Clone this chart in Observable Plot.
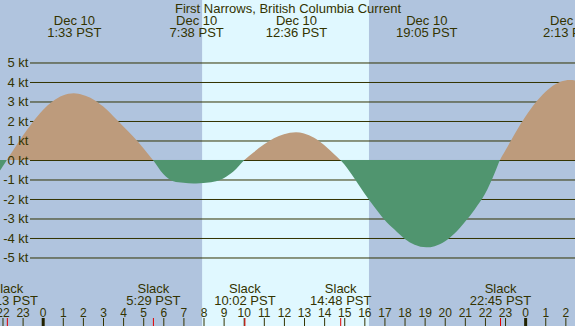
<!DOCTYPE html>
<html><head><meta charset="utf-8">
<script src="https://cdn.jsdelivr.net/npm/d3@7"></script>
<script src="https://cdn.jsdelivr.net/npm/@observablehq/plot@0.6"></script>
<style>html,body{margin:0;padding:0;background:#b0c4de;overflow:hidden}</style>
</head><body><div id="chart"></div>
<script>
const title = "First Narrows, British Columbia Current";
// hours relative to Dec 10 00:00 PST, current speed in knots
const hours = [-2.5, -2.0, -1.783, -1.5, -1.0, -0.5, 0, 0.5, 1.0, 1.55, 2.0, 2.5, 3.0, 3.5, 4.0, 4.5, 5.0, 5.483,
  6.0, 6.5, 7.0, 7.5, 7.633, 8.0, 8.5, 9.0, 9.5, 10.033, 10.5, 11.0, 11.5, 12.0, 12.6, 13.0, 13.5, 14.0, 14.5, 14.8,
  15.0, 15.5, 16.0, 16.5, 17.0, 17.5, 18.0, 18.5, 19.083, 19.5, 20.0, 20.5, 21.0, 21.5, 22.0, 22.5, 22.75,
  23.0, 23.5, 24.0, 24.5, 25.0, 25.5, 26.0, 26.217, 26.5, 27.0];
const knots = [-1.1, -0.35, 0, 0.45, 1.23, 1.94, 2.55, 3.01, 3.31, 3.42, 3.33, 3.12, 2.75, 2.26, 1.73, 1.20, 0.62, 0,
  -0.72, -1.09, -1.17, -1.2, -1.2, -1.18, -1.12, -0.93, -0.58, 0, 0.40, 0.79, 1.11, 1.32, 1.42, 1.36, 1.14, 0.77, 0.30, 0,
  -0.22, -0.94, -1.71, -2.41, -3.06, -3.57, -4.04, -4.35, -4.48, -4.42, -4.18, -3.76, -3.18, -2.52, -1.75, -0.63, 0,
  0.46, 1.37, 2.20, 2.92, 3.49, 3.89, 4.08, 4.10, 4.08, 4.0];
const maxHours = [1.55, 7.633, 12.6, 19.083, 26.217];
const maxDates = ["Dec 10", "Dec 10", "Dec 10", "Dec 10", "Dec 11"];
const maxTimes = ["1:33 PST", "7:38 PST", "12:36 PST", "19:05 PST", "2:13 PST"];
const slackHours = [-1.783, 5.483, 10.033, 14.8, 22.75];
const slackTimes = ["22:13 PST", "5:29 PST", "10:02 PST", "14:48 PST", "22:45 PST"];
const sunrise = [7.93];
const sunset = [16.23];
const knotTicks = [5, 4, 3, 2, 1, 0, -1, -2, -3, -4, -5];
const knotLabels = ["5 kt", "4 kt", "3 kt", "2 kt", "1 kt", "0 kt", "-1 kt", "-2 kt", "-3 kt", "-4 kt", "-5 kt"];
const hourTicks = [-2, -1, 0, 1, 2, 3, 4, 5, 6, 7, 8, 9, 10, 11, 12, 13, 14, 15, 16, 17, 18, 19, 20, 21, 22, 23, 24, 25, 26];
const hourLabels = ["22", "23", "0", "1", "2", "3", "4", "5", "6", "7", "8", "9", "10", "11", "12", "13", "14", "15", "16", "17", "18", "19", "20", "21", "22", "23", "0", "1", "2"];
const midnights = [0, 24];

const ink = "#333300";
const flow = hours.map((h, i) => ({h, v: knots[i]}));
const maxima = maxHours.map((h, i) => ({h, d: maxDates[i], t: maxTimes[i]}));
const slacks = slackHours.map((h, i) => ({h, t: slackTimes[i]}));
const ticksY = knotTicks.map((k, i) => ({k, s: knotLabels[i]}));
const ticksX = hourTicks.map((h, i) => ({h, s: hourLabels[i]}));
const days = sunrise.map((s, i) => ({a: s, b: sunset[i]}));

const plot = Plot.plot({
  width: 575, height: 326,
  marginLeft: 0, marginRight: 0, marginTop: 0, marginBottom: 0,
  x: {domain: [-2.124, 26.48], axis: null},
  y: {domain: [-8.513, 8.205], axis: null},
  style: {fontFamily: "'Liberation Sans', Arial, sans-serif", fontSize: "13px", color: ink, background: "transparent"},
  marks: [
    Plot.rect(days, {x1: "a", x2: "b", fill: "#e0f8ff"}),
    Plot.ruleY(ticksY, {y: "k", insetLeft: 30, stroke: ink, strokeWidth: 1}),
    Plot.areaY(flow, {x: "h", y: "v", curve: "monotone-x", fill: "url(#flowFill)", clip: true}),
    Plot.text(ticksY, {y: "k", text: "s", frameAnchor: "left", dx: 28, textAnchor: "end", lineAnchor: "middle", fill: ink}),
    Plot.text([title], {frameAnchor: "top", dy: 12, lineAnchor: "bottom", fill: ink}),
    Plot.text(maxima, {x: "h", text: "d", frameAnchor: "top", dy: 24, lineAnchor: "bottom", fill: ink}),
    Plot.text(maxima, {x: "h", text: "t", frameAnchor: "top", dy: 36, lineAnchor: "bottom", fill: ink}),
    Plot.text(slacks, {x: "h", text: () => "Slack", frameAnchor: "bottom", dy: -34, lineAnchor: "bottom", fill: ink}),
    Plot.text(slacks, {x: "h", text: "t", frameAnchor: "bottom", dy: -22, lineAnchor: "bottom", fill: ink}),
    Plot.text(ticksX, {x: "h", text: "s", frameAnchor: "bottom", dy: -10, lineAnchor: "bottom", fontSize: 12, fill: ink}),
    Plot.ruleX(hourTicks, {insetTop: 318, stroke: ink, strokeWidth: 1}),
    Plot.ruleX(slackHours, {insetTop: 318, stroke: "#e00000", strokeWidth: 1}),
    Plot.ruleX(midnights, {insetTop: 318, stroke: "#222200", strokeWidth: 3})
  ]
});

const y0 = plot.scale("y").apply(0);
const off = (y0 / 326).toFixed(4);
const svg = d3.select(plot);
const grad = svg.insert("defs", ":first-child").append("linearGradient")
  .attr("id", "flowFill").attr("gradientUnits", "userSpaceOnUse")
  .attr("x1", 0).attr("y1", 0).attr("x2", 0).attr("y2", 326);
grad.append("stop").attr("offset", off).attr("stop-color", "#bd9b7c");
grad.append("stop").attr("offset", off).attr("stop-color", "#50956f");
document.getElementById("chart").append(plot);
</script>
</body></html>
